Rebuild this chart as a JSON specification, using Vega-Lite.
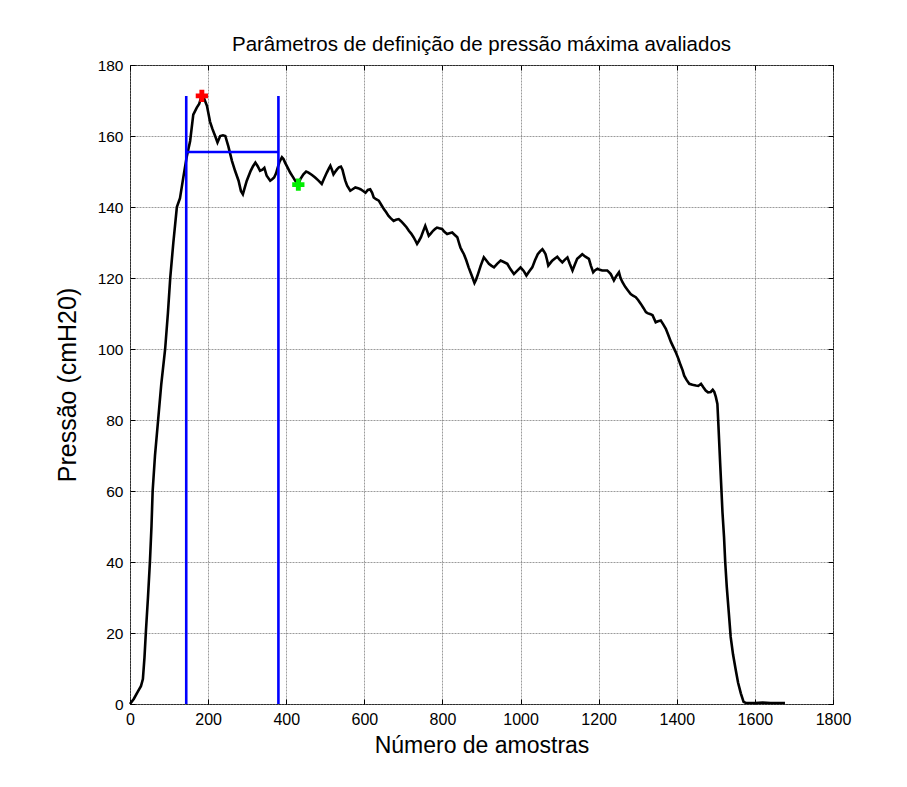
{
  "$schema": "https://vega.github.io/schema/vega-lite/v6.json",
  "autosize": "none",
  "width": 703,
  "height": 639,
  "padding": {"left": 130, "top": 65, "right": 74, "bottom": 83},
  "background": "white",
  "title": {"text": "Parâmetros de definição de pressão máxima avaliados", "font": "Liberation Sans", "fontSize": 20.5, "fontWeight": "normal", "color": "black", "offset": 3},
  "config": {
    "view": {"stroke": "black", "strokeWidth": 1},
    "axis": {
      "domain": false,
      "labelFont": "Liberation Sans", "labelFontSize": 16, "labelColor": "black",
      "titleFont": "Liberation Sans", "titleFontSize": 23, "titleFontWeight": "normal", "titleColor": "black",
      "tickColor": "black", "tickSize": -5, "tickWidth": 1,
      "gridColor": "#7a7a7a", "gridDash": [2, 1], "gridWidth": 1, "gridOpacity": 0.75
    }
  },
  "datasets": {
    "curve": [
      {"x":0,"y":0},{"x":10,"y":1.5},{"x":20,"y":3.5},{"x":28,"y":5},{"x":33,"y":7},{"x":37,"y":13},{"x":41,"y":21},{"x":46,"y":30},{"x":51,"y":40},{"x":55,"y":50},{"x":58,"y":60},{"x":64,"y":70},{"x":72,"y":80},{"x":80,"y":90},{"x":90,"y":100},{"x":97,"y":110},{"x":103,"y":120},{"x":111,"y":130},{"x":120,"y":140},{"x":128,"y":142.5},{"x":136,"y":148},{"x":145,"y":154},{"x":154,"y":158.6},{"x":162,"y":166},{"x":171,"y":168},{"x":177,"y":169},{"x":183,"y":171.2},{"x":190,"y":170.5},{"x":197,"y":168.5},{"x":205,"y":164},{"x":211,"y":162},{"x":218,"y":160},{"x":224,"y":158.2},{"x":231,"y":160},{"x":238,"y":160.2},{"x":244,"y":160},{"x":252,"y":157},{"x":261,"y":153},{"x":269,"y":150.2},{"x":278,"y":147.4},{"x":284,"y":144.5},{"x":289,"y":143.6},{"x":294,"y":145.5},{"x":299,"y":147.4},{"x":309,"y":150.2},{"x":315,"y":151.5},{"x":321,"y":152.5},{"x":327,"y":151.5},{"x":333,"y":150.2},{"x":339,"y":150.5},{"x":344,"y":151},{"x":350,"y":148.8},{"x":359,"y":147.4},{"x":364,"y":147.8},{"x":369,"y":148.3},{"x":374,"y":149.5},{"x":378,"y":151},{"x":383,"y":152.8},{"x":389,"y":154},{"x":393,"y":153.5},{"x":397,"y":152.5},{"x":404,"y":151},{"x":410,"y":149.7},{"x":417,"y":148.5},{"x":423,"y":147.4},{"x":431,"y":146.5},{"x":437,"y":148},{"x":444,"y":149.2},{"x":451,"y":150},{"x":457,"y":149.7},{"x":466,"y":149},{"x":474,"y":148.3},{"x":482,"y":147.5},{"x":491,"y":146.5},{"x":497,"y":148},{"x":504,"y":149.7},{"x":509,"y":150.8},{"x":513,"y":151.6},{"x":517,"y":150.5},{"x":521,"y":149.2},{"x":526,"y":150},{"x":530,"y":150.6},{"x":535,"y":151.2},{"x":540,"y":151.4},{"x":544,"y":150.5},{"x":547,"y":149.2},{"x":551,"y":147.5},{"x":556,"y":146},{"x":564,"y":144.6},{"x":570,"y":145},{"x":577,"y":145.5},{"x":584,"y":145.3},{"x":590,"y":145},{"x":597,"y":144.5},{"x":603,"y":144},{"x":609,"y":144.8},{"x":615,"y":145},{"x":620,"y":144},{"x":624,"y":142.7},{"x":630,"y":142.2},{"x":637,"y":141.8},{"x":644,"y":140.5},{"x":650,"y":139.4},{"x":656,"y":138.5},{"x":662,"y":137.5},{"x":668,"y":136.8},{"x":675,"y":136.1},{"x":681,"y":136.4},{"x":688,"y":136.6},{"x":694,"y":136},{"x":701,"y":135.2},{"x":708,"y":134.3},{"x":714,"y":133.3},{"x":720,"y":132.5},{"x":726,"y":131.5},{"x":731,"y":130.5},{"x":735,"y":129.6},{"x":740,"y":130.5},{"x":745,"y":131.5},{"x":750,"y":133},{"x":756,"y":134.7},{"x":760,"y":133.5},{"x":765,"y":131.9},{"x":770,"y":132.5},{"x":776,"y":133.3},{"x":781,"y":133.8},{"x":786,"y":134.2},{"x":792,"y":134},{"x":799,"y":133.8},{"x":805,"y":133},{"x":812,"y":132.4},{"x":818,"y":132.6},{"x":825,"y":132.8},{"x":831,"y":132.2},{"x":838,"y":131.5},{"x":842,"y":130},{"x":846,"y":128.6},{"x":850,"y":127.7},{"x":855,"y":126.7},{"x":861,"y":125},{"x":867,"y":123},{"x":874,"y":121},{"x":882,"y":118.6},{"x":886,"y":119.5},{"x":891,"y":121.1},{"x":898,"y":123.5},{"x":906,"y":125.8},{"x":912,"y":125},{"x":919,"y":124},{"x":925,"y":123.5},{"x":932,"y":123},{"x":940,"y":124},{"x":949,"y":124.9},{"x":957,"y":124.5},{"x":966,"y":124},{"x":974,"y":122.5},{"x":983,"y":121.1},{"x":991,"y":122},{"x":1000,"y":123},{"x":1008,"y":122},{"x":1015,"y":120.7},{"x":1022,"y":121.8},{"x":1030,"y":123},{"x":1037,"y":125},{"x":1044,"y":126.7},{"x":1050,"y":127.5},{"x":1056,"y":128.1},{"x":1060,"y":127.5},{"x":1064,"y":126.7},{"x":1068,"y":125},{"x":1071,"y":123.5},{"x":1076,"y":124.2},{"x":1081,"y":124.9},{"x":1088,"y":125.5},{"x":1094,"y":126},{"x":1100,"y":125.2},{"x":1107,"y":124.4},{"x":1113,"y":125.1},{"x":1120,"y":125.8},{"x":1126,"y":124},{"x":1133,"y":122.1},{"x":1139,"y":123.8},{"x":1145,"y":125.4},{"x":1151,"y":126},{"x":1158,"y":126.7},{"x":1166,"y":126},{"x":1175,"y":125.4},{"x":1180,"y":123.5},{"x":1186,"y":121.6},{"x":1191,"y":122.2},{"x":1197,"y":122.6},{"x":1203,"y":122.3},{"x":1209,"y":122.1},{"x":1215,"y":122.1},{"x":1222,"y":122.1},{"x":1227,"y":121.6},{"x":1231,"y":121.1},{"x":1235,"y":120.2},{"x":1239,"y":119.3},{"x":1245,"y":120.5},{"x":1252,"y":121.6},{"x":1256,"y":120},{"x":1261,"y":118.8},{"x":1268,"y":117.5},{"x":1275,"y":116.5},{"x":1282,"y":115.5},{"x":1288,"y":115},{"x":1295,"y":114.6},{"x":1301,"y":113.8},{"x":1308,"y":112.7},{"x":1315,"y":111.5},{"x":1321,"y":110.4},{"x":1325,"y":110.1},{"x":1333,"y":109.8},{"x":1338,"y":109.5},{"x":1346,"y":107.5},{"x":1352,"y":107.8},{"x":1359,"y":108},{"x":1365,"y":107},{"x":1372,"y":105.7},{"x":1378,"y":104},{"x":1385,"y":102},{"x":1391,"y":100.6},{"x":1397,"y":99.2},{"x":1404,"y":97.3},{"x":1410,"y":95.4},{"x":1415,"y":94},{"x":1419,"y":92.5},{"x":1425,"y":91.3},{"x":1432,"y":90.2},{"x":1440,"y":89.9},{"x":1449,"y":89.7},{"x":1455,"y":89.6},{"x":1462,"y":90.2},{"x":1468,"y":89.2},{"x":1474,"y":88.3},{"x":1480,"y":87.8},{"x":1487,"y":87.9},{"x":1492,"y":88.5},{"x":1496,"y":87.9},{"x":1500,"y":86.5},{"x":1504,"y":84.5},{"x":1506,"y":80},{"x":1508,"y":75.2},{"x":1511,"y":68},{"x":1514,"y":61.1},{"x":1517,"y":54},{"x":1521,"y":47},{"x":1524,"y":40},{"x":1528,"y":33},{"x":1533,"y":26},{"x":1538,"y":18.9},{"x":1544,"y":14},{"x":1551,"y":9.6},{"x":1557,"y":6},{"x":1564,"y":3},{"x":1571,"y":0.6},{"x":1577,"y":0.3},{"x":1600,"y":0.3},{"x":1620,"y":0.4},{"x":1640,"y":0.3},{"x":1660,"y":0.3},{"x":1677,"y":0.3}
    ],
    "vlines": [
      {"x": 144, "y": 0, "y2": 171.3},
      {"x": 380, "y": 0, "y2": 171.3}
    ],
    "hline": [
      {"x": 144, "x2": 380, "y": 155.5}
    ],
    "markers": [
      {"x": 184, "y": 171.3, "kind": "max"},
      {"x": 431, "y": 146.3, "kind": "min"}
    ]
  },
  "layer": [
    {
      "data": {"name": "curve"},
      "mark": {"type": "line", "color": "black", "strokeWidth": 2.6, "interpolate": "linear"},
      "encoding": {
        "x": {"field": "x", "type": "quantitative", "scale": {"domain": [0, 1800], "nice": false, "zero": false},
              "axis": {"title": "Número de amostras", "format": "d", "values": [0,200,400,600,800,1000,1200,1400,1600,1800], "labelPadding": 12, "titlePadding": 7, "labelFlush": false, "labelOverlap": false}},
        "y": {"field": "y", "type": "quantitative", "scale": {"domain": [0, 180], "nice": false},
              "axis": {"title": "Pressão (cmH20)", "titleFontSize": 25, "format": "d", "labelFontSize": 15.5, "values": [0,20,40,60,80,100,120,140,160,180], "labelPadding": 12, "titlePadding": 17, "labelFlush": false, "labelOverlap": false}}
      }
    },
    {
      "data": {"name": "curve"},
      "mark": {"type": "line", "opacity": 0},
      "encoding": {
        "x": {"field": "x", "type": "quantitative", "axis": {"orient": "top", "labels": false, "title": null, "grid": false, "values": [0,200,400,600,800,1000,1200,1400,1600,1800]}},
        "y": {"field": "y", "type": "quantitative", "axis": {"orient": "right", "labels": false, "title": null, "grid": false, "values": [0,20,40,60,80,100,120,140,160,180]}}
      }
    },
    {
      "data": {"name": "vlines"},
      "mark": {"type": "rule", "color": "#0000ff", "strokeWidth": 2.6},
      "encoding": {
        "x": {"field": "x", "type": "quantitative", "axis": null},
        "y": {"field": "y", "type": "quantitative", "axis": null},
        "y2": {"field": "y2"}
      }
    },
    {
      "data": {"name": "hline"},
      "mark": {"type": "rule", "color": "#0000ff", "strokeWidth": 2.6},
      "encoding": {
        "x": {"field": "x", "type": "quantitative", "axis": null},
        "x2": {"field": "x2"},
        "y": {"field": "y", "type": "quantitative", "axis": null}
      }
    },
    {
      "data": {"name": "markers"},
      "mark": {"type": "point", "shape": "cross", "filled": true, "size": 150, "opacity": 1},
      "encoding": {
        "x": {"field": "x", "type": "quantitative", "axis": null},
        "y": {"field": "y", "type": "quantitative", "axis": null},
        "color": {"field": "kind", "type": "nominal", "scale": {"domain": ["max", "min"], "range": ["#ff0000", "#00ee00"]}, "legend": null}
      }
    }
  ],
  "resolve": {"axis": {"x": "independent", "y": "independent"}}
}
